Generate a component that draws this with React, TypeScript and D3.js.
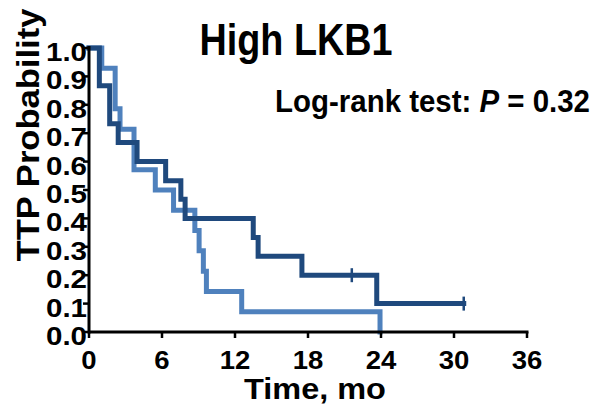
import React from "react";
import * as d3 from "d3";

const W = 594;
const H = 414;

// Kaplan–Meier curve values
const darkTimes = [0.85, 1.7, 2.4, 3.95, 6.3, 7.55, 7.9, 13.5, 13.9, 17.5, 23.65];
const darkSurv = [0.867, 0.733, 0.667, 0.6, 0.533, 0.467, 0.4, 0.333, 0.267, 0.2, 0.1];
const darkCensorTimes = [21.6, 30.8];
const darkCensorSurv = [0.2, 0.1];
const darkEnd = 30.8;

const lightTimes = [1.05, 2.15, 2.55, 3.7, 5.45, 6.95, 8.7, 9.05, 9.4, 9.65, 12.55, 23.92];
const lightSurv = [0.929, 0.786, 0.714, 0.571, 0.5, 0.429, 0.357, 0.286, 0.214, 0.143, 0.071, 0];
const lightEnd = 23.92;

const xTicks = [0, 6, 12, 18, 24, 30, 36];
const yTicks = [0, 0.1, 0.2, 0.3, 0.4, 0.5, 0.6, 0.7, 0.8, 0.9, 1.0];

const title = "High LKB1";
const xLabel = "Time, mo";
const yLabel = "TTP Probability";

const DARK = "#1F497D";
const LIGHT = "#4F81BD";
const FONT = "'Liberation Sans', Arial, Helvetica, sans-serif";

function stepPoints(times: number[], surv: number[], end: number): [number, number][] {
  const pts: [number, number][] = [[0, 1]];
  times.forEach((t, i) => pts.push([t, surv[i]]));
  pts.push([end, surv[surv.length - 1]]);
  return pts;
}

export default function App() {
  const x = d3.scaleLinear().domain([0, 36]).range([89, 527]);
  const y = d3.scaleLinear().domain([0, 1]).range([332, 48]);

  const line = d3
    .line<[number, number]>()
    .x((d) => x(d[0]))
    .y((d) => y(d[1]))
    .curve(d3.curveStepAfter);

  const darkPath = line(stepPoints(darkTimes, darkSurv, darkEnd)) || "";
  const lightPath = line(stepPoints(lightTimes, lightSurv, lightEnd)) || "";

  return (
    <svg
      width={W}
      height={H}
      style={{ position: "absolute", left: 0, top: 0, background: "#fff" }}
      fontFamily={FONT}
      fontWeight="bold"
    >
      <rect width={W} height={H} fill="#fff" />
      {/* Title */}
      <text transform="translate(296,55) scale(0.84,1)" fontSize={45} textAnchor="middle" fill="#000">
        {title}
      </text>
      {/* Log-rank annotation */}
      <text transform="translate(590,112) scale(0.95,1)" fontSize={31} textAnchor="end" fill="#000">
        {"Log-rank test: "}
        <tspan fontStyle="italic">P</tspan>
        {" = 0.32"}
      </text>

      {/* Curves */}
      <path d={lightPath} fill="none" stroke={LIGHT} strokeWidth={5} strokeLinejoin="miter" strokeLinecap="square" />
      <path d={darkPath} fill="none" stroke={DARK} strokeWidth={5} strokeLinejoin="miter" strokeLinecap="square" />
      {darkCensorTimes.map((t, i) => (
        <line
          key={i}
          x1={x(t)}
          x2={x(t)}
          y1={y(darkCensorSurv[i]) - 7}
          y2={y(darkCensorSurv[i]) + 7}
          stroke={DARK}
          strokeWidth={2.5}
        />
      ))}

      {/* Axes */}
      <line x1={x(0)} x2={x(36) + 1.5} y1={y(0)} y2={y(0)} stroke="#000" strokeWidth={3} />
      <line x1={x(0)} x2={x(0)} y1={y(0) + 1.5} y2={y(1) - 2} stroke="#000" strokeWidth={3} />
      {xTicks.map((t) => (
        <line key={"xt" + t} x1={x(t)} x2={x(t)} y1={y(0)} y2={y(0) + 6} stroke="#000" strokeWidth={2.5} />
      ))}
      {yTicks.map((v) => (
        <line key={"yt" + v} x1={x(0) - 6} x2={x(0)} y1={y(v)} y2={y(v)} stroke="#000" strokeWidth={2.5} />
      ))}
      {xTicks.map((t) => (
        <text
          key={"xl" + t}
          transform={`translate(${x(t)},${369}) scale(1.1,1)`}
          fontSize={25}
          textAnchor="middle"
          fill="#000"
        >
          {t}
        </text>
      ))}
      {yTicks.map((v) => (
        <text
          key={"yl" + v}
          transform={`translate(${87},${y(v) + 13}) scale(1.18,1)`}
          fontSize={25}
          textAnchor="end"
          fill="#000"
        >
          {v.toFixed(1)}
        </text>
      ))}

      {/* Axis titles */}
      <text transform={`translate(315,399) scale(1.12,1)`} fontSize={29} textAnchor="middle" fill="#000">
        {xLabel}
      </text>
      <text transform={`translate(39,135) rotate(-90) scale(1.08,1)`} fontSize={32} textAnchor="middle" fill="#000">
        {yLabel}
      </text>
    </svg>
  );
}
